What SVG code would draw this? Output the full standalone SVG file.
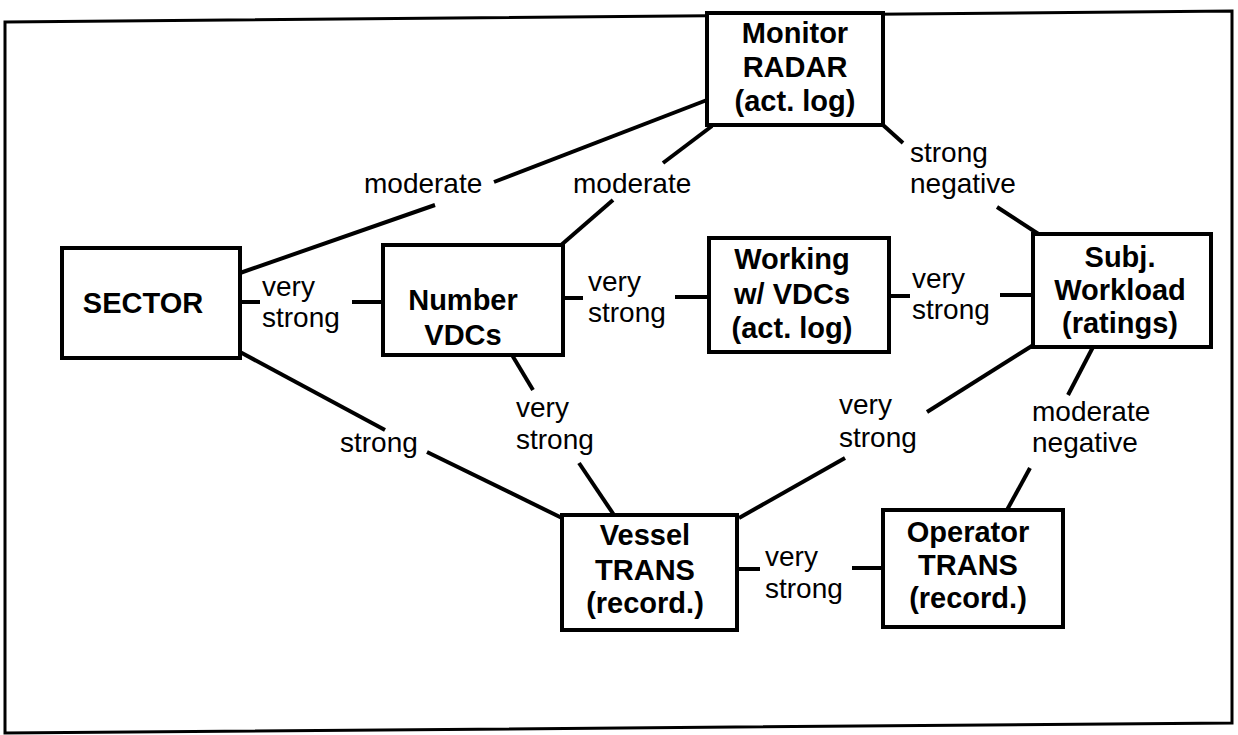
<svg xmlns="http://www.w3.org/2000/svg" width="1238" height="735" viewBox="0 0 1238 735">
<style>
.box{fill:#fff;stroke:#000;stroke-width:4}
.nt{font-family:"Liberation Sans",Arial,sans-serif;font-weight:bold;font-size:29px;fill:#000;text-anchor:middle}
.lt{font-family:"Liberation Sans",Arial,sans-serif;font-size:28px;fill:#000}
.cn line{stroke:#000;stroke-width:4;stroke-linecap:butt}
</style>
<rect x="0" y="0" width="1238" height="735" fill="#fff"/>
<polygon points="5,22 1232,11 1232,723 5,733" fill="none" stroke="#000" stroke-width="3"/>
<g id="connectors" class="cn">
<line x1="240" y1="273" x2="435" y2="205"/><line x1="494" y1="182" x2="707" y2="100"/>
<line x1="560" y1="246" x2="613" y2="200"/><line x1="663" y1="163" x2="712" y2="126"/>
<line x1="883" y1="125" x2="903" y2="143"/><line x1="997" y1="207" x2="1040" y2="235"/>
<line x1="240" y1="302" x2="260" y2="302"/><line x1="352" y1="302" x2="383" y2="302"/>
<line x1="563" y1="298" x2="583" y2="298"/><line x1="675" y1="297" x2="709" y2="297"/>
<line x1="889" y1="296" x2="910" y2="296"/><line x1="1000" y1="295" x2="1033" y2="295"/>
<line x1="240" y1="352" x2="385" y2="430"/><line x1="427" y1="452" x2="562" y2="518"/>
<line x1="512" y1="355" x2="533" y2="390"/><line x1="579" y1="463" x2="614" y2="515"/>
<line x1="1035" y1="344" x2="927" y2="412"/><line x1="845" y1="458" x2="739" y2="518"/>
<line x1="1093" y1="347" x2="1068" y2="395"/><line x1="1030" y1="468" x2="1007" y2="510"/>
<line x1="737" y1="569" x2="760" y2="569"/><line x1="852" y1="568" x2="883" y2="568"/>
<text class="lt" x="364" y="193">moderate</text>
<text class="lt" x="573" y="193">moderate</text>
<text class="lt" x="910" y="162">strong</text><text class="lt" x="910" y="193">negative</text>
<text class="lt" x="262" y="296">very</text><text class="lt" x="262" y="327">strong</text>
<text class="lt" x="588" y="291">very</text><text class="lt" x="588" y="322">strong</text>
<text class="lt" x="912" y="288">very</text><text class="lt" x="912" y="319">strong</text>
<text class="lt" x="340" y="452">strong</text>
<text class="lt" x="516" y="417">very</text><text class="lt" x="516" y="449">strong</text>
<text class="lt" x="839" y="414">very</text><text class="lt" x="839" y="447">strong</text>
<text class="lt" x="1032" y="421">moderate</text><text class="lt" x="1032" y="452">negative</text>
<text class="lt" x="765" y="566">very</text><text class="lt" x="765" y="598">strong</text>
</g>
<g id="monitor"><rect class="box" x="707" y="13" width="176" height="112"/>
<text class="nt" x="795" y="43">Monitor</text><text class="nt" x="795" y="77">RADAR</text><text class="nt" x="795" y="111">(act. log)</text></g>
<g id="sector"><rect class="box" x="62" y="248" width="178" height="110"/>
<text class="nt" x="143" y="313">SECTOR</text></g>
<g id="number"><rect class="box" x="383" y="245" width="180" height="110"/>
<text class="nt" x="463" y="310">Number</text><text class="nt" x="463" y="345">VDCs</text></g>
<g id="working"><rect class="box" x="709" y="238" width="180" height="114"/>
<text class="nt" x="792" y="269">Working</text><text class="nt" x="792" y="304">w/ VDCs</text><text class="nt" x="792" y="338">(act. log)</text></g>
<g id="subj"><rect class="box" x="1033" y="234" width="178" height="113"/>
<text class="nt" x="1120" y="267">Subj.</text><text class="nt" x="1120" y="300">Workload</text><text class="nt" x="1120" y="333">(ratings)</text></g>
<g id="vessel"><rect class="box" x="562" y="515" width="175" height="115"/>
<text class="nt" x="645" y="545">Vessel</text><text class="nt" x="645" y="580">TRANS</text><text class="nt" x="645" y="613">(record.)</text></g>
<g id="operator"><rect class="box" x="883" y="510" width="180" height="117"/>
<text class="nt" x="968" y="542">Operator</text><text class="nt" x="968" y="575">TRANS</text><text class="nt" x="968" y="608">(record.)</text></g>
</svg>
